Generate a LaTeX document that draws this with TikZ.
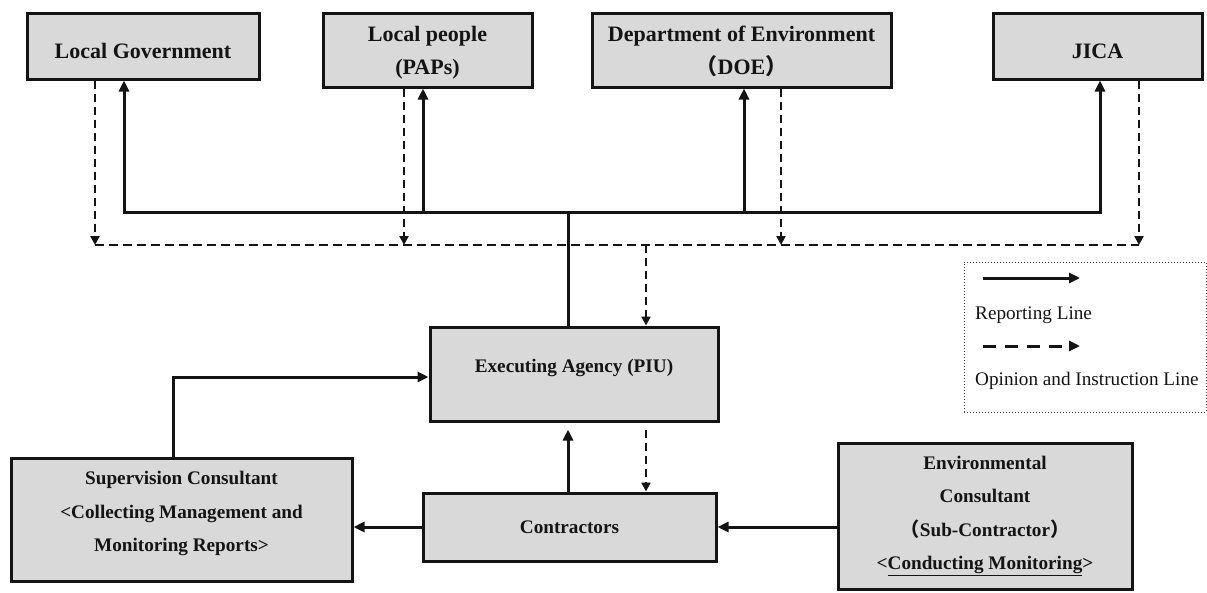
\documentclass[tikz,border=0pt]{standalone}
\usepackage{fontspec}
\setmainfont{Liberation Serif}
\newfontfamily\cjkfont{Noto Sans CJK SC}
\usetikzlibrary{arrows.meta,calc,positioning}

\definecolor{boxgray}{HTML}{D9D9D9}
\definecolor{inkblack}{HTML}{141414}
\newcommand{\fwopen}{{\cjkfont （}}
\newcommand{\fwclose}{{\cjkfont ）}}

\begin{document}
\begin{tikzpicture}[x=1pt, y=-1pt,
    unit/.style={draw=inkblack, fill=boxgray, line width=3pt, inner sep=0pt, align=center,
      text=inkblack, font=\bfseries\fontsize{22}{33}\selectfont},
    lower/.style={unit, font=\bfseries\fontsize{19.2}{33.3}\selectfont},
    note/.style={inner sep=0pt, text=inkblack, font=\fontsize{19.2}{23}\selectfont},
    key/.style={draw=inkblack!80, dotted, line width=1pt, inner sep=0pt},
    report/.style={draw=inkblack, line width=3pt, -{Triangle[length=11pt,width=10pt]}},
    instruct/.style={draw=inkblack, line width=2.7pt, dash pattern=on 8pt off 5pt,
      -{Triangle[length=9pt,width=9pt]}},
    bus/.style={draw=inkblack, line width=3pt, line cap=rect},
    dbus/.style={draw=inkblack, line width=2.7pt, dash pattern=on 9pt off 5pt}]

    \useasboundingbox (0,0) rectangle (1207,592);

    \node[unit, minimum width=232, minimum height=66, text height=24pt, text depth=0pt] (lgov) at (143,46) {Local Government};
    \node[unit, minimum width=209, minimum height=74, text height=53pt, text depth=5pt] (people) at (427.5,50) {Local people\\(PAPs)};
    \node[unit, minimum width=299, minimum height=74, text height=53pt, text depth=5pt] (doe) at (741.5,50) {Department of Environment\\\fwopen DOE\fwclose};
    \node[unit, minimum width=209, minimum height=66, text height=24pt, text depth=0pt] (jica) at (1097.5,46) {JICA};

    \node[lower, minimum width=288, minimum height=94, text height=14pt, text depth=18pt] (piu) at (574,374) {Executing Agency (PIU)};
    \node[lower, minimum width=293, minimum height=68] (contr) at (569.5,527) {Contractors};
    \node[lower, minimum width=341, minimum height=123, text depth=16pt] (superv) at (181.5,519.5)
      {Supervision Consultant\\<Collecting Management and\\Monitoring Reports>};
    \node[lower, minimum width=294, minimum height=146] (envc) at (985,516)
      {Environmental\\Consultant\\\fwopen Sub-Contractor\fwclose\\<\underline{Conducting Monitoring}>};

    \coordinate (hub) at (568,212);
    \coordinate (obus) at (646,245);

    \draw[bus] ([xshift=-19pt]lgov.south |- hub) -- ([xshift=2.5pt]jica.south |- hub);
    \foreach \n/\dx in {lgov/-19, people/-4.5, doe/2.5, jica/2.5}
      \draw[report] ([xshift=\dx pt]\n.south |- hub) -- ([xshift=\dx pt]\n.south);
    \draw[bus] (hub) -- (hub |- piu.north);

    \draw[dbus] ([xshift=-48pt]lgov.south |- obus) -- ([xshift=41.5pt]jica.south |- obus);
    \foreach \n/\dx in {lgov/-48, people/-23.5, doe/39.5, jica/41.5}
      \draw[instruct] ([xshift=\dx pt]\n.south) -- ([xshift=\dx pt]\n.south |- obus);
    \draw[instruct] (obus) -- (obus |- piu.north);
    \draw[instruct, shorten <=7pt] (obus |- piu.south) -- (obus |- contr.north);

    \draw[report, shorten >=7pt] ([xshift=-1.5pt]contr.north) -- ([xshift=-1.5pt]contr.north |- piu.south);
    \draw[report] ([xshift=-8.5pt]superv.north) |- ([yshift=-3pt]piu.west);
    \draw[report] (contr.west) -- (contr.west -| superv.east);
    \draw[report] (contr.east -| envc.west) -- (contr.east);

    \node[key, minimum width=242, minimum height=150] (legend) at (1085,337) {};
    \coordinate (r1) at (983,278);
    \coordinate (r2) at (1080,278);
    \coordinate (o1) at (983,346);
    \coordinate (o2) at (1080,346);
    \draw[report] (r1) -- (r2);
    \node[note, anchor=west] (rtext) at (975,315) {Reporting Line};
    \draw[report, dash pattern=on 13pt off 9pt] (o1) -- (o2);
    \node[note, anchor=west] (otext) at (975,381) {Opinion and Instruction Line};

\end{tikzpicture}
\end{document}
